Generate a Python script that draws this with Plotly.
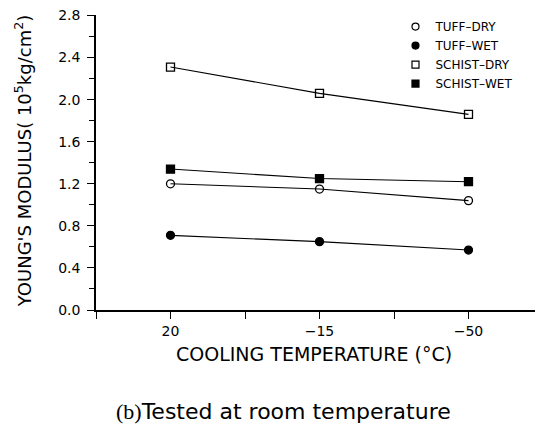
import plotly.graph_objects as go

FONT = "DejaVu Sans"

temps = ["20", "−15", "−50"]
tuff_dry = [1.20, 1.15, 1.04]
tuff_wet = [0.71, 0.65, 0.57]
schist_dry = [2.31, 2.06, 1.86]
schist_wet = [1.34, 1.25, 1.22]
y_ticks = [0.0, 0.4, 0.8, 1.2, 1.6, 2.0, 2.4, 2.8]

series = [
    ("TUFF–DRY", tuff_dry, "circle-open"),
    ("TUFF–WET", tuff_wet, "circle"),
    ("SCHIST–DRY", schist_dry, "square-open"),
    ("SCHIST–WET", schist_wet, "square"),
]

xpos = list(range(len(temps)))

fig = go.Figure()
for name, vals, sym in series:
    fig.add_trace(go.Scatter(
        x=xpos, y=vals, mode="lines+markers", showlegend=False,
        line=dict(color="black", width=1.1),
        marker=dict(symbol=sym, size=8, color="black", line=dict(color="black", width=1.3)),
    ))
    # legend entry shows only the marker, like the original
    fig.add_trace(go.Scatter(
        x=[None], y=[None], mode="markers", name=name,
        marker=dict(symbol=sym, size=7, color="black", line=dict(color="black", width=1.2)),
    ))

axis_common = dict(
    showline=True, linecolor="black", linewidth=1.5, showgrid=False, zeroline=False,
    ticks="outside", ticklen=7, tickwidth=1.2, tickcolor="black",
    tickfont=dict(family=FONT, size=14, color="black"),
    ticklabeloverflow="allow",
)

fig.update_xaxes(
    range=[-0.5, 2.5], tickmode="array", tickvals=xpos, ticktext=temps,
    minor=dict(tickmode="linear", tick0=0.5, dtick=1, ticks="outside", ticklen=7,
               tickwidth=1.2, tickcolor="black"),
    **axis_common,
)
fig.update_yaxes(
    range=[0, 2.805], tickmode="array", tickvals=y_ticks,
    ticktext=[f"{v:.1f}" for v in y_ticks], ticklabelstandoff=4,
    minor=dict(tickmode="linear", tick0=0.2, dtick=0.4, ticks="outside", ticklen=5,
               tickwidth=1.2, tickcolor="black"),
    **axis_common,
)

fig.add_annotation(
    text="YOUNG'S MODULUS( 10<sup>5</sup>kg/cm<sup>2</sup>)", textangle=-90,
    xref="paper", yref="paper", x=-0.163, y=0.505, xanchor="center", yanchor="middle",
    showarrow=False, font=dict(family=FONT, size=18, color="black"),
)
fig.add_annotation(
    text="COOLING TEMPERATURE (°C)",
    xref="paper", yref="paper", x=0.487, y=-0.148, xanchor="center", yanchor="middle",
    showarrow=False, font=dict(family=FONT, size=19, color="black"),
)
fig.add_annotation(
    text="<span style='font-family:Liberation Serif'>(b)</span>Tested at room temperature",
    xref="paper", yref="paper", x=0.42, y=-0.344, xanchor="center", yanchor="middle",
    showarrow=False, font=dict(family=FONT, size=22, color="black"),
)

# browser body has an 8px margin, so the figure is shrunk by that much
fig.update_layout(
    width=535, height=419,
    margin=dict(l=88, r=0, t=7, b=117),
    plot_bgcolor="white", paper_bgcolor="white",
    font=dict(family=FONT, color="black"),
    legend=dict(x=0.67, y=1.01, xanchor="left", yanchor="top",
                font=dict(family=FONT, size=12, color="black"),
                bgcolor="rgba(0,0,0,0)", tracegroupgap=0),
)

fig.write_html("out.html")
